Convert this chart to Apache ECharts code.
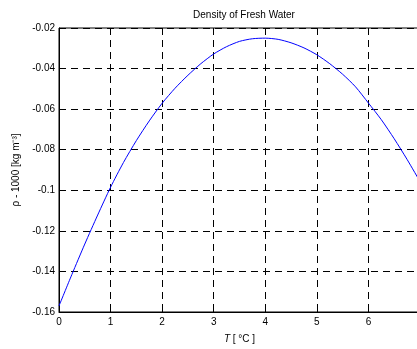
<!DOCTYPE html>
<html>
<head>
<meta charset="utf-8">
<script src="https://cdn.jsdelivr.net/npm/echarts@6/dist/echarts.min.js"></script>
<style>
  html, body { margin: 0; padding: 0; background: #fff; }
  #chart { width: 417px; height: 349px; }
</style>
</head>
<body>
<div id="chart"></div>
<script>
// temperature [degC] and density - 1000 [kg m^-3]
var temps = [0, 0.25, 0.5, 0.75, 1, 1.25, 1.5, 1.75, 2, 2.25, 2.5, 2.75, 3, 3.25, 3.5,
  3.75, 4, 4.25, 4.5, 4.75, 5, 5.25, 5.5, 5.75, 6, 6.25, 6.5, 6.75, 7];
var density = [-0.157, -0.1415, -0.1265, -0.1122, -0.0985, -0.0863, -0.0755, -0.0658,
  -0.0571, -0.0497, -0.0433, -0.0376, -0.0328, -0.0292, -0.0266, -0.0253, -0.025,
  -0.0256, -0.0273, -0.0298, -0.0332, -0.0376, -0.0428, -0.049, -0.057, -0.0652,
  -0.0746, -0.0848, -0.0957];

var xTicks = [0, 1, 2, 3, 4, 5, 6, 7];
var yTicks = [-0.16, -0.14, -0.12, -0.1, -0.08, -0.06, -0.04, -0.02];

var font = 'Liberation Sans, Arial, sans-serif';

var chart = echarts.init(document.getElementById('chart'), null, { renderer: 'canvas' });

var gridLine = { show: true, lineStyle: { color: '#000', width: 1, type: [7, 5] } };

chart.setOption({
  animation: false,
  backgroundColor: '#fff',
  title: {
    text: 'Density of Fresh Water',
    left: 239,
    top: 5,
    textAlign: 'center',
    textStyle: { fontFamily: font, fontSize: 10, fontWeight: 'normal', color: '#000' }
  },
  grid: {
    left: 59, top: 28, right: -3, bottom: 37,
    outerBoundsMode: 'none',
    containLabel: false,
    show: true, borderColor: '#000', borderWidth: 1
  },
  xAxis: {
    type: 'value',
    min: xTicks[0],
    max: xTicks[xTicks.length - 1],
    interval: 1,
    name: '{it|T} [ °C ]',
    nameLocation: 'middle',
    nameGap: 22,
    nameTextStyle: {
      fontFamily: font, fontSize: 10, color: '#000',
      rich: { it: { fontStyle: 'italic', fontFamily: font, fontSize: 10, color: '#000' } }
    },
    axisLine: { show: true, lineStyle: { color: '#000', width: 1 } },
    axisTick: { show: true, inside: true, length: 4, lineStyle: { color: '#000' } },
    axisLabel: { fontFamily: font, fontSize: 10, color: '#000', margin: 5 },
    splitLine: gridLine
  },
  yAxis: {
    type: 'value',
    min: yTicks[0],
    max: yTicks[yTicks.length - 1],
    interval: 0.02,
    name: 'ρ - 1000 [kg m⁻³]',
    nameLocation: 'middle',
    nameRotate: 90,
    nameGap: 30,
    nameTextStyle: { fontFamily: font, fontSize: 10, color: '#000' },
    axisLine: { show: true, lineStyle: { color: '#000', width: 1 } },
    axisTick: { show: true, inside: true, length: 4, lineStyle: { color: '#000' } },
    axisLabel: {
      fontFamily: font, fontSize: 10, color: '#000', margin: 4,
      formatter: function (v) { return String(Math.round(v * 100) / 100); }
    },
    splitLine: gridLine
  },
  series: [{
    type: 'line',
    data: temps.map(function (t, i) { return [t, density[i]]; }),
    smooth: 0.25,
    showSymbol: false,
    lineStyle: { color: '#0000ff', width: 1 },
    clip: true
  }]
});
</script>
</body>
</html>
